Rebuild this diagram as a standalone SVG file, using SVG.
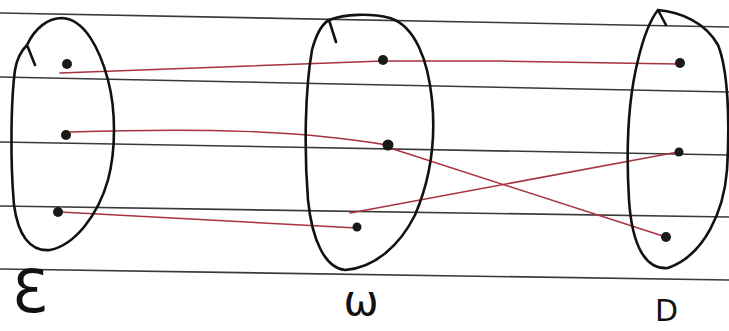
<svg xmlns="http://www.w3.org/2000/svg" width="729" height="331" viewBox="0 0 729 331">
<style>
.rule{stroke:#3a3a3a;stroke-width:1.6;fill:none}
.set{stroke:#111;stroke-width:2.6;fill:none;stroke-linecap:round;stroke-linejoin:round}
.dot{fill:#1a1a1a}
.edge{stroke:#a8323f;stroke-width:1.5;fill:none;stroke-linecap:round}
.lbl{font-family:"DejaVu Sans",sans-serif;fill:#111}
</style>
<rect width="729" height="331" fill="#fff"/>
<g id="paper">
<line class="rule" x1="0" y1="13" x2="729" y2="27"/>
<line class="rule" x1="0" y1="77" x2="729" y2="92"/>
<line class="rule" x1="0" y1="142" x2="729" y2="155"/>
<line class="rule" x1="0" y1="206" x2="729" y2="217"/>
<line class="rule" x1="0" y1="269" x2="729" y2="280"/>
</g>
<g id="connectors">
<path class="edge" d="M60,73 L250,66 L383,61 L500,61 L677,64"/>
<path class="edge" d="M70,132 C200,128 300,130 387,145"/>
<path class="edge" d="M390,148 L666,237"/>
<path class="edge" d="M350,213 L678,152"/>
<path class="edge" d="M60,212 L357,228"/>
</g>
<g id="set-E">
<path class="set" d="M35,65 L27,45 C35,28 48,18 62,18 C85,19 100,50 108,80 C116,110 116,150 108,180 C98,215 75,245 50,250 C30,252 18,235 14,205 C10,160 11,100 15,70 C17,58 22,50 27,45"/>
<text class="lbl" x="12" y="312" font-size="58">Ɛ</text>
</g>
<g id="set-W">
<path class="set" d="M336,42 L329,20 C345,14 370,13 390,18 C415,26 428,60 432,100 C436,140 430,180 415,215 C400,245 375,268 345,270 C325,268 312,240 308,200 C304,150 305,90 312,50 C316,35 322,24 329,20"/>
<text class="lbl" x="361" y="315" font-size="42" text-anchor="middle">ω</text>
</g>
<g id="set-D">
<path class="set" d="M666,25 L658,10 C680,12 705,22 718,45 C728,70 730,120 727,170 C724,210 705,255 668,268 C645,270 632,245 629,200 C626,150 628,100 638,60 C644,35 650,20 658,10"/>
<text class="lbl" x="655" y="321" font-size="30">D</text>
</g>
<g id="node-e1"><circle class="dot" cx="67" cy="64" r="5"/></g>
<g id="node-e2"><circle class="dot" cx="66" cy="135" r="5"/></g>
<g id="node-e3"><circle class="dot" cx="58" cy="212" r="5"/></g>
<g id="node-w1"><circle class="dot" cx="383" cy="60" r="5"/></g>
<g id="node-w2"><circle class="dot" cx="388" cy="145" r="5.5"/></g>
<g id="node-w3"><circle class="dot" cx="357" cy="227" r="4.5"/></g>
<g id="node-d1"><circle class="dot" cx="680" cy="63" r="5"/></g>
<g id="node-d2"><circle class="dot" cx="679" cy="152" r="4.5"/></g>
<g id="node-d3"><circle class="dot" cx="666" cy="237" r="5"/></g>
</svg>
